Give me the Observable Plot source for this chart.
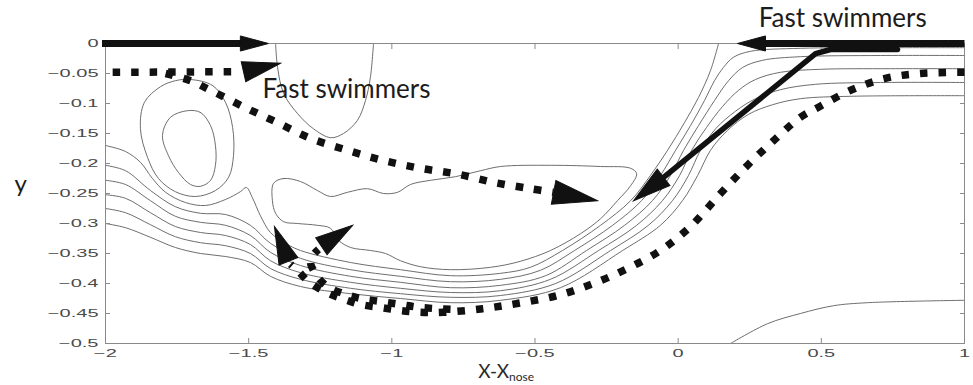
<!DOCTYPE html>
<html>
<head>
<meta charset="utf-8">
<script src="https://cdn.jsdelivr.net/npm/d3@7"></script>
<script src="https://cdn.jsdelivr.net/npm/@observablehq/plot@0.6"></script>
<style>
  html, body { margin: 0; padding: 0; background: #fff; }
  #chart svg { display: block; }
</style>
</head>
<body>
<div id="chart"></div>
<script>
// ---- Streamline contours, in (x − x_nose, y) ----
const eddyInner = [[-1.714,-0.112],[-1.668,-0.115],[-1.633,-0.137],[-1.616,-0.170],[-1.616,-0.203],[-1.633,-0.228],[-1.668,-0.238],[-1.703,-0.235],[-1.745,-0.215],[-1.780,-0.187],[-1.801,-0.153],[-1.773,-0.123]];
const eddyOuter = [[-1.703,-0.060],[-1.626,-0.070],[-1.581,-0.098],[-1.556,-0.140],[-1.553,-0.187],[-1.570,-0.223],[-1.616,-0.245],[-1.686,-0.255],[-1.756,-0.247],[-1.815,-0.225],[-1.853,-0.190],[-1.878,-0.142],[-1.864,-0.098],[-1.808,-0.072],[-1.756,-0.062]];
const bubble = [[-1.413,-0.233],[-1.378,-0.225],[-1.319,-0.230],[-1.260,-0.245],[-1.214,-0.255],[-1.155,-0.248],[-1.085,-0.242],[-1.029,-0.250],[-0.980,-0.248],[-0.935,-0.235],[-0.865,-0.228],[-0.778,-0.222],[-0.690,-0.212],[-0.620,-0.205],[-0.446,-0.203],[-0.271,-0.205],[-0.166,-0.208],[-0.145,-0.217],[-0.166,-0.237],[-0.212,-0.262],[-0.271,-0.292],[-0.341,-0.317],[-0.446,-0.345],[-0.551,-0.363],[-0.655,-0.373],[-0.795,-0.377],[-0.900,-0.372],[-0.970,-0.362],[-1.022,-0.350],[-1.074,-0.345],[-1.144,-0.340],[-1.186,-0.328],[-1.214,-0.308],[-1.260,-0.303],[-1.329,-0.300],[-1.378,-0.297],[-1.406,-0.283],[-1.417,-0.262]];
const topCell = [[-1.406,0],[-1.399,-0.040],[-1.378,-0.083],[-1.329,-0.117],[-1.274,-0.142],[-1.214,-0.157],[-1.169,-0.150],[-1.120,-0.128],[-1.092,-0.095],[-1.075,-0.057],[-1.064,0]];
const stream0 = [[-2.000,-0.170],[-1.930,-0.180],[-1.878,-0.198],[-1.836,-0.225],[-1.790,-0.248],[-1.721,-0.265],[-1.651,-0.270],[-1.581,-0.260],[-1.529,-0.247],[-1.508,-0.240],[-1.487,-0.257],[-1.459,-0.287],[-1.424,-0.315],[-1.371,-0.333],[-1.319,-0.345],[-1.144,-0.365],[-0.970,-0.377],[-0.795,-0.387],[-0.620,-0.383],[-0.516,-0.373],[-0.404,-0.345],[-0.271,-0.303],[-0.166,-0.262],[-0.097,-0.220],[-0.037,-0.178],[0.022,-0.132],[0.071,-0.090],[0.113,-0.045],[0.141,0]];
const stream1 = [[-2.000,-0.203],[-1.930,-0.212],[-1.843,-0.245],[-1.756,-0.272],[-1.668,-0.283],[-1.581,-0.285],[-1.494,-0.303],[-1.424,-0.333],[-1.319,-0.358],[-1.144,-0.377],[-0.970,-0.388],[-0.795,-0.397],[-0.620,-0.393],[-0.481,-0.378],[-0.362,-0.345],[-0.229,-0.303],[-0.128,-0.262],[-0.062,-0.220],[-0.009,-0.178],[0.043,-0.137],[0.092,-0.095],[0.127,-0.062],[0.158,-0.040],[0.193,-0.023],[0.253,-0.013],[0.427,-0.008],[0.707,-0.007],[1.000,-0.007]];
const stream2 = [[-2.000,-0.228],[-1.930,-0.235],[-1.843,-0.262],[-1.756,-0.288],[-1.668,-0.298],[-1.581,-0.303],[-1.494,-0.320],[-1.424,-0.348],[-1.319,-0.370],[-1.144,-0.388],[-0.970,-0.398],[-0.795,-0.407],[-0.620,-0.403],[-0.463,-0.387],[-0.320,-0.345],[-0.187,-0.303],[-0.090,-0.262],[-0.027,-0.220],[0.019,-0.178],[0.071,-0.137],[0.127,-0.095],[0.176,-0.062],[0.225,-0.040],[0.295,-0.028],[0.427,-0.022],[0.707,-0.020],[1.000,-0.020]];
const stream3 = [[-2.000,-0.252],[-1.930,-0.258],[-1.843,-0.282],[-1.756,-0.305],[-1.668,-0.315],[-1.581,-0.320],[-1.494,-0.335],[-1.424,-0.362],[-1.319,-0.382],[-1.144,-0.398],[-0.970,-0.408],[-0.795,-0.415],[-0.620,-0.412],[-0.446,-0.393],[-0.278,-0.345],[-0.145,-0.303],[-0.055,-0.262],[0.005,-0.220],[0.047,-0.178],[0.099,-0.140],[0.155,-0.105],[0.211,-0.078],[0.270,-0.060],[0.357,-0.048],[0.497,-0.043],[0.742,-0.042],[1.000,-0.042]];
const stream4 = [[-2.000,-0.275],[-1.930,-0.282],[-1.843,-0.302],[-1.756,-0.322],[-1.668,-0.332],[-1.581,-0.337],[-1.494,-0.350],[-1.424,-0.375],[-1.319,-0.393],[-1.144,-0.408],[-0.970,-0.417],[-0.795,-0.423],[-0.620,-0.420],[-0.428,-0.400],[-0.236,-0.345],[-0.104,-0.303],[-0.020,-0.262],[0.036,-0.220],[0.078,-0.178],[0.131,-0.142],[0.200,-0.113],[0.270,-0.092],[0.357,-0.077],[0.480,-0.068],[0.707,-0.065],[1.000,-0.065]];
const stream5 = [[-2.000,-0.300],[-1.930,-0.307],[-1.843,-0.323],[-1.756,-0.340],[-1.668,-0.350],[-1.581,-0.355],[-1.494,-0.365],[-1.424,-0.388],[-1.319,-0.405],[-1.144,-0.417],[-0.970,-0.425],[-0.795,-0.432],[-0.620,-0.428],[-0.411,-0.407],[-0.194,-0.345],[-0.062,-0.303],[0.015,-0.262],[0.068,-0.220],[0.113,-0.178],[0.172,-0.145],[0.246,-0.118],[0.330,-0.102],[0.427,-0.092],[0.602,-0.088],[1.000,-0.087]];
const lowerRight = [[0.183,-0.5],[0.312,-0.467],[0.427,-0.450],[0.543,-0.437],[0.661,-0.432],[1.000,-0.428]];

// ---- Swimmer paths ----
const solidTopLeft = [[-2.0,0],[-1.529,0]];
const solidTopRight = [[1.0,0],[0.305,0]];
const solidDiagonal = [[0.766,-0.010],[0.532,-0.010],[0.480,-0.017],[-0.051,-0.223]];
const dashTop = [[-1.975,-0.048],[-1.529,-0.047]];
const dashDiagonal = [[-1.790,-0.050],[-1.703,-0.062],[-1.633,-0.078],[-1.511,-0.107],[-1.399,-0.132],[-1.284,-0.158],[-1.155,-0.178],[-1.029,-0.195],[-0.900,-0.208],[-0.767,-0.218],[-0.638,-0.232],[-0.516,-0.242],[-0.435,-0.248]];
const dashArc = [[1.000,-0.048],[0.846,-0.050],[0.724,-0.058],[0.602,-0.078],[0.487,-0.107],[0.427,-0.123],[0.333,-0.162],[0.242,-0.203],[0.148,-0.250],[0.043,-0.305],[-0.062,-0.345],[-0.177,-0.375],[-0.296,-0.400],[-0.421,-0.420],[-0.558,-0.433],[-0.683,-0.442],[-0.820,-0.448],[-0.900,-0.448],[-0.970,-0.445],[-1.040,-0.440],[-1.109,-0.435],[-1.162,-0.427],[-1.214,-0.418],[-1.256,-0.408],[-1.295,-0.395],[-1.326,-0.380],[-1.354,-0.368]];
const dashBranch = [[-0.795,-0.443],[-0.900,-0.440],[-0.970,-0.435],[-1.040,-0.430],[-1.109,-0.425],[-1.162,-0.418],[-1.214,-0.408],[-1.249,-0.395],[-1.274,-0.378],[-1.284,-0.365],[-1.274,-0.352],[-1.256,-0.343]];

// arrowheads: tip and centre of the base
const headTips  = [[-1.431,0],[0.207,0],[-0.156,-0.262],[-1.389,-0.033],[-0.282,-0.262],[-1.410,-0.305],[-1.137,-0.303]];
const headBases = [[-1.529,0],[0.305,0],[-0.051,-0.223],[-1.518,-0.047],[-0.435,-0.248],[-1.361,-0.363],[-1.246,-0.338]];

// ---- Axes and annotations ----
const xTicks = [-2,-1.5,-1,-0.5,0,0.5,1];
const yTicks = [0,-0.05,-0.1,-0.15,-0.2,-0.25,-0.3,-0.35,-0.4,-0.45,-0.5];
const noteText = ["Fast swimmers","Fast swimmers"];
const noteX = [-1.452, 0.281];
const noteY = [-0.090, 0.027];

const W = 973, H = 385, mL = 105, mR = 9, mT = 43, mB = 42;
const sx = d3.scaleLinear([-2, 1], [mL, W - mR]);
const sy = d3.scaleLinear([-0.5, 0], [H - mB, mT]);

// screen-space length and heading of each arrowhead
const heads = headTips.map((t, i) => {
  const b = headBases[i];
  const dx = sx(t[0]) - sx(b[0]), dy = sy(t[1]) - sy(b[1]);
  return {x: t[0], y: t[1], len: Math.hypot(dx, dy), angle: Math.atan2(dx, -dy) * 180 / Math.PI};
});
// tip at the anchor, base trailing behind
const headSymbol = {
  draw(ctx, size) {
    const l = Math.sqrt(size / Math.PI), w = l * 0.27;
    ctx.moveTo(0, 0); ctx.lineTo(w, l); ctx.lineTo(-w, l); ctx.closePath();
  }
};

const fmt = d => d === 0 ? "0" : (d < 0 ? "\u2212" : "") + String(Math.abs(+d.toFixed(2)));
const notes = noteText.map((t, i) => ({text: t, x: noteX[i], y: noteY[i]}));

const contour = (pts, closed) => Plot.line(pts, {
  curve: closed ? "catmull-rom-closed" : "catmull-rom",
  stroke: "#5e5e5e", strokeWidth: 0.9, clip: true
});
const dashed = pts => Plot.line(pts, {
  curve: "catmull-rom", stroke: "#111", strokeWidth: 7.5,
  strokeDasharray: "7.5 11", strokeLinecap: "butt"
});
const axisStyle = {stroke: "#8a8a8a", fontSize: 10, fontFamily: "Liberation Sans, Arial, sans-serif", label: null};

const chart = Plot.plot({
  width: W, height: H,
  marginLeft: mL, marginRight: mR, marginTop: mT, marginBottom: mB,
  x: {domain: [-2, 1]},
  y: {domain: [-0.5, 0]},
  r: {type: "identity"},
  style: {background: "#fff", color: "#111"},
  marks: [
    contour(eddyInner, true),
    contour(eddyOuter, true),
    contour(bubble, true),
    contour(topCell),
    contour(stream0), contour(stream1), contour(stream2),
    contour(stream3), contour(stream4), contour(stream5),
    contour(lowerRight),
    Plot.frame({stroke: "#8a8a8a"}),
    Plot.axisY({...axisStyle, ticks: yTicks, anchor: "left", tickSize: -5, tickPadding: 12, tickFormat: fmt, fill: "#4a4a4a"}),
    Plot.axisY({...axisStyle, ticks: yTicks, anchor: "right", tickSize: -5, fill: "none"}),
    Plot.axisX({...axisStyle, ticks: xTicks, anchor: "bottom", tickSize: -5, tickPadding: 11, tickFormat: fmt, fill: "#4a4a4a"}),
    Plot.axisX({...axisStyle, ticks: xTicks, anchor: "top", tickSize: -5, fill: "none"}),
    dashed(dashTop),
    dashed(dashDiagonal),
    dashed(dashArc),
    dashed(dashBranch),
    Plot.line(solidTopLeft, {stroke: "#111", strokeWidth: 7, strokeLinecap: "square"}),
    Plot.line(solidTopRight, {stroke: "#111", strokeWidth: 7, strokeLinecap: "butt"}),
    Plot.line(solidDiagonal, {stroke: "#111", strokeWidth: 5.5, strokeLinejoin: "round"}),
    Plot.dot(heads, {x: "x", y: "y", r: "len", rotate: "angle", symbol: headSymbol, fill: "#111", stroke: "#111", strokeWidth: 1}),
    Plot.text(notes, {x: "x", y: "y", text: "text", textAnchor: "start", lineAnchor: "bottom",
      fontSize: 26, fontFamily: "Lato, sans-serif", fill: "#1c1c1c"}),
    Plot.text(["y"], {frameAnchor: "left", dx: -91, dy: -2, lineAnchor: "bottom", text: d => d,
      fontSize: 24, fontFamily: "Lato, sans-serif", fill: "#1c1c1c"}),
    Plot.text(["X-X"], {frameAnchor: "bottom", dx: -26, dy: 34, textAnchor: "end", lineAnchor: "bottom", text: d => d,
      fontSize: 19, fontFamily: "Lato, sans-serif", fill: "#2a2a2a"}),
    Plot.text(["nose"], {frameAnchor: "bottom", dx: -26, dy: 37, textAnchor: "start", lineAnchor: "bottom", text: d => d,
      fontSize: 12, fontFamily: "Lato, sans-serif", fill: "#2a2a2a"})
  ]
});

document.getElementById("chart").appendChild(chart);

// wide, flattened tick numerals
for (const t of chart.querySelectorAll('g[aria-label="y-axis tick label"] text, g[aria-label="x-axis tick label"] text')) {
  const w = t.getComputedTextLength();
  t.setAttribute("textLength", (w * 2).toFixed(1));
  t.setAttribute("lengthAdjust", "spacingAndGlyphs");
}
</script>
</body>
</html>
